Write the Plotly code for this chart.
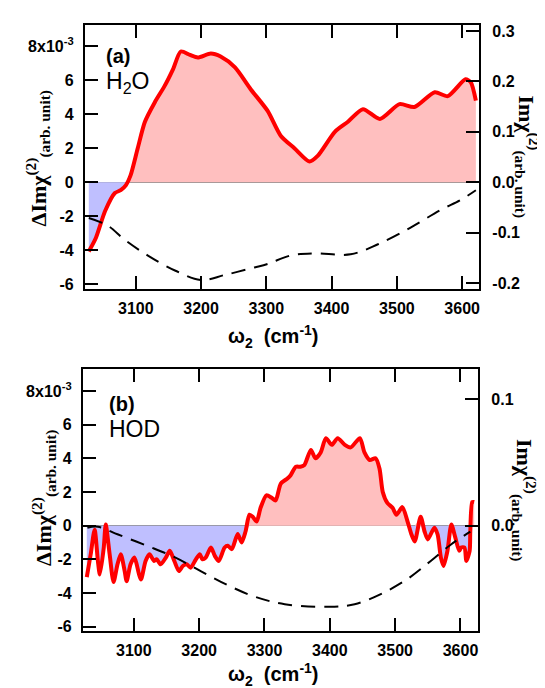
import numpy as np
import plotly.graph_objects as go

# ---------------- data ----------------
# Panel (a) H2O : ΔImχ(2) in units of 1e-3 (left axis)
top_w_red = [3028, 3039, 3053, 3068, 3077, 3085, 3092, 3103, 3114, 3129, 3144, 3157, 3169,
             3183, 3195, 3215, 3230, 3252, 3276, 3302, 3322, 3343, 3366, 3379, 3405, 3425,
             3448, 3474, 3504, 3527, 3558, 3578, 3605, 3613, 3621]
top_dIm = [-4.08, -3.27, -1.70, -0.64, -0.47, -0.17, 0.40, 2.00, 3.56, 4.70, 5.66, 6.65, 7.70,
           7.50, 7.35, 7.58, 7.40, 6.76, 5.48, 4.20, 2.74, 2.00, 1.22, 1.57, 2.97, 3.56,
           4.30, 3.73, 4.60, 4.43, 5.30, 5.07, 6.06, 5.90, 4.80]
# Panel (a) H2O : Imχ(2) (right axis, dashed)
top_w_dash = [3028, 3057, 3083, 3118, 3160, 3200, 3236, 3282, 3302, 3338, 3374, 3429, 3471,
              3521, 3567, 3598, 3621]
top_Im = [-0.071, -0.086, -0.114, -0.145, -0.175, -0.194, -0.184, -0.169, -0.162, -0.145,
          -0.141, -0.143, -0.123, -0.090, -0.055, -0.035, -0.016]

# Panel (b) HOD : ΔImχ(2) in units of 1e-3 (left axis)
bot_w_red = [3028, 3034, 3040, 3045, 3048, 3054, 3057, 3063, 3069, 3075, 3080, 3086, 3089,
             3095, 3101, 3108, 3111, 3118, 3124, 3131, 3135, 3141, 3149, 3155, 3162, 3169,
             3175, 3181, 3187, 3195, 3201, 3205, 3210, 3218, 3224, 3230, 3239, 3244, 3250,
             3259, 3265, 3271, 3277, 3282, 3288, 3294, 3303, 3311, 3317, 3325, 3335, 3340,
             3348, 3355, 3361, 3371, 3378, 3386, 3394, 3403, 3412, 3423, 3432, 3446, 3453,
             3461, 3470, 3476, 3481, 3488, 3496, 3502, 3511, 3519, 3525, 3530, 3539, 3545,
             3550, 3560, 3565, 3570, 3574, 3580, 3586, 3592, 3598, 3601, 3606, 3609, 3614,
             3615, 3618, 3621]
bot_dIm = [-3.06, -1.70, -0.24, -2.10, -2.90, -1.30, 0.06, -1.70, -3.35, -2.30, -1.70, -2.70,
           -3.30, -2.30, -1.90, -2.90, -3.20, -2.10, -1.70, -2.10, -2.00, -2.30, -1.90, -1.50,
           -2.10, -2.70, -2.40, -2.30, -2.50, -2.00, -1.70, -2.00, -1.90, -1.30, -1.80, -2.10,
           -1.30, -1.20, -1.40, -0.50, -1.00, -0.35, 0.65, 0.53, 0.24, 1.06, 1.80, 1.65, 1.50,
           2.50, 2.80, 3.00, 3.50, 3.50, 3.60, 4.50, 4.00, 4.35, 5.20, 4.80, 5.20, 4.80, 4.65,
           5.20, 4.35, 3.90, 4.00, 3.40, 2.00, 1.35, 1.06, 0.65, 1.10, 0.24, -0.53, -0.94,
           0.53, -0.35, -0.82, -0.12, -0.53, -1.90, -2.40, -1.50, 0.06, -0.70, -1.50, -1.30,
           -1.30, -2.10, -1.50, -0.35, 1.40, 1.40]
# Panel (b) HOD : Imχ(2) (right axis, dashed)
bot_w_dash = [3029, 3045, 3076, 3121, 3163, 3203, 3244, 3285, 3331, 3400, 3438, 3478, 3519,
              3554, 3585, 3615]
bot_Im = [-0.0016, -0.0008, -0.007, -0.016, -0.025, -0.036, -0.047, -0.056, -0.062, -0.064,
          -0.062, -0.054, -0.042, -0.028, -0.015, -0.0047]

x_ticks = [3100, 3200, 3300, 3400, 3500, 3600]
left_ticks = [-6, -4, -2, 0, 2, 4, 6, 8]
left_ticktext = ["-6", "-4", "-2", "0", "2", "4", "6", "8x10<sup>-3</sup>"]
top_right_ticks = [-0.2, -0.1, 0.0, 0.1, 0.2, 0.3]
top_right_text = ["-0.2", "-0.1", "0.0", "0.1", "0.2", "0.3"]
bot_right_ticks = [0.0, 0.1]
bot_right_text = ["0.0", "0.1"]

# ---------------- figure ----------------
W, H = 545, 688
PINK = "#ffbfbf"
BLUE = "#bfbfff"
RED = "#ff0000"

def px(x):
    return x / W

def py(y):
    return 1 - y / H

fig = go.Figure()

def add_panel(wr, dr, wd, dd, xa, ya, ya2):
    wr = np.array(wr, float)
    dr = np.array(dr, float)
    fig.add_trace(go.Scatter(x=wr, y=np.minimum(dr, 0), mode="none", fill="tozeroy",
                             fillcolor=BLUE, xaxis=xa, yaxis=ya, hoverinfo="skip"))
    fig.add_trace(go.Scatter(x=wr, y=np.maximum(dr, 0), mode="none", fill="tozeroy",
                             fillcolor=PINK, xaxis=xa, yaxis=ya, hoverinfo="skip"))
    fig.add_trace(go.Scatter(x=wr, y=dr, mode="lines",
                             line=dict(color=RED, width=4, shape="spline", smoothing=0.7),
                             xaxis=xa, yaxis=ya))
    fig.add_trace(go.Scatter(x=wd, y=dd, mode="lines",
                             line=dict(color="black", width=2, dash="14px,9px", shape="spline"),
                             xaxis=xa, yaxis=ya2))

add_panel(top_w_red, top_dIm, top_w_dash, top_Im, "x", "y", "y2")
add_panel(bot_w_red, bot_dIm, bot_w_dash, bot_Im, "x2", "y3", "y4")

tickfont = dict(family="Liberation Sans, Arial", size=16, color="black", weight="bold")
common = dict(ticks="inside", ticklen=13, tickwidth=2, tickcolor="black", showline=True,
              linewidth=2, linecolor="black", showgrid=False, tickfont=tickfont)

fig.update_layout(
    width=W, height=H, margin=dict(l=0, r=0, t=0, b=0),
    plot_bgcolor="white", paper_bgcolor="white", showlegend=False,
    xaxis=dict(domain=[px(77), px(472)], anchor="y", range=[3022, 3626], tickvals=x_ticks,
               mirror="ticks", zeroline=False, ticklabelstandoff=4, **common),
    yaxis=dict(domain=[py(282), py(15)], anchor="x", range=[-6.3, 9.27], tickvals=left_ticks,
               ticktext=left_ticktext, zeroline=True, zerolinecolor="#8c8c8c",
               zerolinewidth=1, ticklabelstandoff=6, **common),
    yaxis2=dict(overlaying="y", side="right", anchor="x", range=[-0.212, 0.312],
                tickvals=top_right_ticks, ticktext=top_right_text, zeroline=False,
                ticklabelstandoff=8, **common),
    xaxis2=dict(domain=[px(75), px(471)], anchor="y3", range=[3022, 3627], tickvals=x_ticks,
                mirror="ticks", zeroline=False, ticklabelstandoff=4, **common),
    yaxis3=dict(domain=[py(627), py(363)], anchor="x2", range=[-6.24, 9.29], tickvals=left_ticks,
                ticktext=left_ticktext, zeroline=True, zerolinecolor="#8c8c8c",
                zerolinewidth=1, ticklabelstandoff=6, **common),
    yaxis4=dict(overlaying="y3", side="right", anchor="x2", range=[-0.0828, 0.1234],
                tickvals=bot_right_ticks, ticktext=bot_right_text, zeroline=False,
                ticklabelstandoff=8, **common),
)

sans_b = dict(family="Liberation Sans, Arial", color="black", weight="bold")
serif_b = dict(family="Liberation Serif, Times New Roman", color="black", weight="bold")

def ann(text, x, y, font, angle=0, xanchor="center", yanchor="middle"):
    fig.add_annotation(text=text, x=px(x), y=py(y), xref="paper", yref="paper",
                       showarrow=False, textangle=angle, font=font,
                       xanchor=xanchor, yanchor=yanchor)

xt = "ω<sub>2</sub>  (cm<sup>-1</sup>)"
ann(xt, 266, 330, dict(size=20, **sans_b))
ann(xt, 266, 671, dict(size=20, **sans_b))

lt = "ΔImχ<sup>(2)</sup><sub>(arb. unit)</sub>"
rt = "Imχ<sup>(2)</sup><sub>(arb. unit)</sub>"
ann(lt, 31, 150, dict(size=22, **serif_b), angle=-90)
ann(lt, 36, 493, dict(size=22, **serif_b), angle=-90)
ann(rt, 519, 148, dict(size=22, **serif_b), angle=90)
ann(rt, 517, 495, dict(size=22, **serif_b), angle=90)

ann("(a)", 96, 46, dict(size=20, **sans_b), xanchor="left")
ann("H<sub>2</sub>O", 96, 73, dict(size=23, family="Liberation Sans, Arial", color="black"),
    xanchor="left")
ann("(b)", 99, 398, dict(size=20, **sans_b), xanchor="left")
ann("HOD", 99, 423, dict(size=23, family="Liberation Sans, Arial", color="black"),
    xanchor="left")

fig.write_html("out.html")
